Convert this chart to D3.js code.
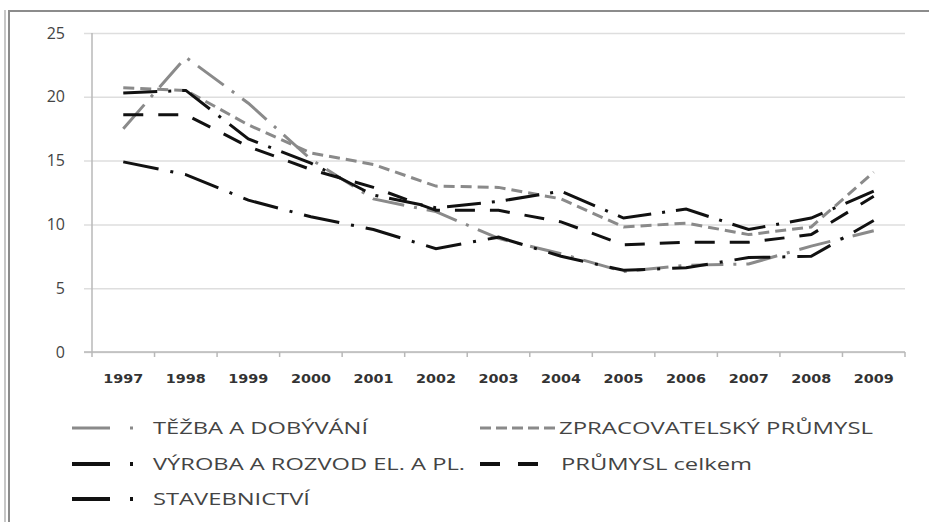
<!DOCTYPE html>
<html>
<head>
<meta charset="utf-8">
<script src="https://cdn.jsdelivr.net/npm/d3@7"></script>
<style>
  body { margin: 0; background: #fff; }
  svg { display: block; font-family: "Open Sans", "DejaVu Sans", sans-serif; }
</style>
</head>
<body>
<svg id="chart" width="929" height="522"></svg>
<script>
// data
var years = ['1997', '1998', '1999', '2000', '2001', '2002', '2003',
             '2004', '2005', '2006', '2007', '2008', '2009'];
var yTicks = [0, 5, 10, 15, 20, 25];

var tezba      = [17.5, 23.1, 19.5, 15.1, 12.0, 11.0, 8.9, 7.7, 6.3, 6.8, 6.9, 8.3, 9.5];
var zpracov    = [20.7, 20.5, 17.8, 15.6, 14.7, 13.0, 12.9, 12.0, 9.8, 10.1, 9.2, 9.8, 14.1];
var vyroba     = [20.3, 20.5, 16.7, 14.8, 12.3, 11.3, 11.8, 12.6, 10.5, 11.2, 9.6, 10.5, 12.6];
var prumysl    = [18.6, 18.6, 16.1, 14.3, 12.9, 11.1, 11.1, 10.2, 8.4, 8.6, 8.6, 9.2, 12.2];
var stavebnict = [14.9, 13.9, 11.9, 10.6, 9.6, 8.1, 9.0, 7.5, 6.4, 6.6, 7.4, 7.5, 10.3];

var seriesNames = ['TĚŽBA A DOBÝVÁNÍ', 'ZPRACOVATELSKÝ PRŮMYSL',
                   'VÝROBA A ROZVOD EL. A  PL.', 'PRŮMYSL celkem', 'STAVEBNICTVÍ'];

var GREY = '#8a8a8a';
var BLACK = '#111';

var series = [
    { name: seriesNames[0], values: tezba, color: GREY, dash: '32,10,3,10', legendDash: '38,20,3,200' },
    { name: seriesNames[1], values: zpracov, color: GREY, dash: '11,6', legendDash: '11,5' },
    { name: seriesNames[2], values: vyroba, color: BLACK, dash: '34,11,3,11', legendDash: '38,20,3,200' },
    { name: seriesNames[3], values: prumysl, color: BLACK, dash: '20,15', legendDash: '20,18' },
    { name: seriesNames[4], values: stavebnict, color: BLACK, dash: '36,12,3,12', legendDash: '38,20,3,200' }
];

var svg = d3.select('#chart');

var plotL = 92, plotR = 905, plotT = 33, plotB = 352;

var x = d3.scaleBand().domain(years).range([plotL, plotR]);
var y = d3.scaleLinear().domain([0, 25]).range([plotB, plotT]);
var cx = function (yr) { return x(yr) + x.bandwidth() / 2; };

// outer frame (cropped screenshot of a bordered chart)
svg.append('line').attr('x1', 5).attr('x2', 5).attr('y1', 10).attr('y2', 522)
    .attr('stroke', '#b5b5b5').attr('stroke-width', 1.5);
svg.append('line').attr('x1', 9).attr('x2', 9).attr('y1', 11).attr('y2', 522)
    .attr('stroke', '#8c8c8c').attr('stroke-width', 2);
svg.append('line').attr('x1', 8).attr('x2', 929).attr('y1', 11).attr('y2', 11)
    .attr('stroke', '#8c8c8c').attr('stroke-width', 2);

// gridlines + y labels
var gy = svg.append('g').attr('transform', 'translate(' + plotL + ',0)')
    .call(d3.axisLeft(y).tickValues(yTicks).tickSize(8).tickFormat(d3.format('d')));
gy.select('.domain').remove();
gy.selectAll('.tick line').attr('x1', -8).attr('x2', plotR - plotL)
    .attr('stroke', '#dedede').attr('stroke-width', 1.5);
gy.selectAll('.tick text').attr('x', -27).attr('fill', '#444')
    .style('font-size', '16px').style('font-family', '"Open Sans", sans-serif');

// y axis line
svg.append('line').attr('x1', plotL).attr('x2', plotL).attr('y1', plotT).attr('y2', plotB)
    .attr('stroke', '#b8b8b8').attr('stroke-width', 1.5);

// x axis
var gx = svg.append('g').attr('transform', 'translate(0,' + plotB + ')')
    .call(d3.axisBottom(x).tickSize(0).tickPadding(22));
gx.select('.domain').attr('stroke', '#b8b8b8').attr('stroke-width', 1.5)
    .attr('d', 'M' + (plotL - 8) + ',0H' + plotR);
gx.selectAll('.tick text').attr('fill', '#333')
    .style('font-size', '13px').style('font-weight', 'bold')
    .style('font-family', '"DejaVu Sans", sans-serif')
    .attr('textLength', 40).attr('lengthAdjust', 'spacingAndGlyphs');
// category boundary ticks
var bounds = years.map(function (yr) { return x(yr); }).concat([plotR]);
svg.append('g').selectAll('line').data(bounds).join('line')
    .attr('x1', function (d) { return d; }).attr('x2', function (d) { return d; })
    .attr('y1', plotB).attr('y2', plotB + 5)
    .attr('stroke', '#b8b8b8').attr('stroke-width', 1.5);

// lines
var line = d3.line()
    .x(function (d, i) { return cx(years[i]); })
    .y(function (d) { return y(d); });

svg.append('g').selectAll('path').data(series).join('path')
    .attr('d', function (s) { return line(s.values); })
    .attr('fill', 'none')
    .attr('stroke', function (s) { return s.color; })
    .attr('stroke-width', 3)
    .attr('stroke-dasharray', function (s) { return s.dash; });

// legend
var legendPos = [
    { x: 72, y: 428, len: 62, tx: 153, tw: 215 },
    { x: 480, y: 428, len: 75, tx: 559, tw: 314 },
    { x: 72, y: 464, len: 62, tx: 153, tw: 312 },
    { x: 480, y: 464, len: 58, tx: 561, tw: 191 },
    { x: 72, y: 499, len: 62, tx: 153, tw: 157 }
];

var leg = svg.append('g').selectAll('g').data(series).join('g');
leg.append('line')
    .attr('x1', function (s, i) { return legendPos[i].x; })
    .attr('x2', function (s, i) { return legendPos[i].x + legendPos[i].len; })
    .attr('y1', function (s, i) { return legendPos[i].y; })
    .attr('y2', function (s, i) { return legendPos[i].y; })
    .attr('stroke', function (s) { return s.color; })
    .attr('stroke-width', function (s) { return s.color === GREY ? 3 : 4; })
    .attr('stroke-dasharray', function (s) { return s.legendDash; });
leg.append('text')
    .attr('x', function (s, i) { return legendPos[i].tx; })
    .attr('y', function (s, i) { return legendPos[i].y; })
    .attr('dy', '0.36em')
    .attr('fill', '#444')
    .attr('textLength', function (s, i) { return legendPos[i].tw; })
    .attr('lengthAdjust', 'spacingAndGlyphs')
    .style('font-size', '17px')
    .text(function (s) { return s.name; });
</script>
</body>
</html>
